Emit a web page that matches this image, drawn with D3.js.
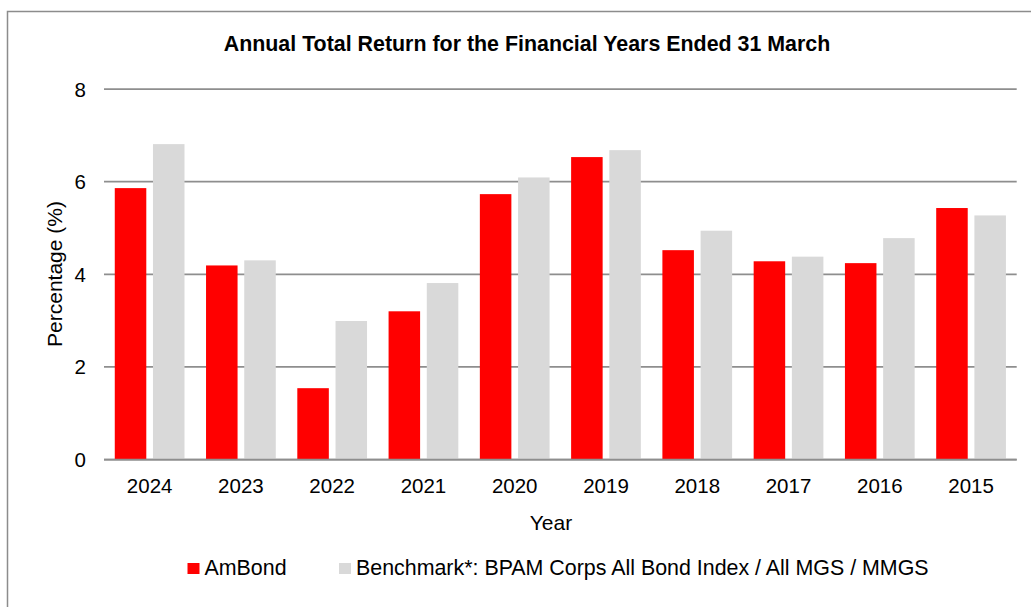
<!DOCTYPE html>
<html>
<head>
<meta charset="utf-8">
<script src="https://cdn.jsdelivr.net/npm/d3@7"></script>
<style>
  body { margin: 0; background: #fff; }
  text { font-family: "Liberation Sans", Arial, sans-serif; fill: #000; }
</style>
</head>
<body>
<div id="chart"></div>
<script>
// data
var years = ["2024", "2023", "2022", "2021", "2020", "2019", "2018", "2017", "2016", "2015"]
var seriesNames = ["AmBond", "Benchmark*: BPAM Corps All Bond Index / All MGS / MMGS"]
var amBond = [5.86, 4.19, 1.54, 3.20, 5.73, 6.53, 4.52, 4.28, 4.24, 5.43]
var benchmark = [6.81, 4.30, 2.99, 3.81, 6.09, 6.68, 4.94, 4.38, 4.78, 5.27]
var yTicks = [0, 2, 4, 6, 8]
var colors = ["#ff0000", "#d9d9d9"]

var W = 1031, H = 607
var margin = { left: 104, right: 14.3, top: 89, bottom: 147.5 }
var fontSize = "20.5px"

var svg = d3.select("#chart").append("svg")
  .attr("width", W)
  .attr("height", H)

// outer frame
svg.append("rect")
  .attr("x", 7.5).attr("y", 11.5)
  .attr("width", W + 20).attr("height", H + 20)
  .attr("fill", "none")
  .attr("stroke", "#8c8c8c")
  .attr("stroke-width", 1.5)

var x0 = d3.scaleBand()
  .domain(years)
  .range([margin.left, W - margin.right])
  .paddingInner(0.236)
  .paddingOuter(0.118)

var x1 = d3.scaleBand()
  .domain(seriesNames)
  .range([0, x0.bandwidth()])
  .paddingInner(0.175)

var y = d3.scaleLinear()
  .domain([0, 8])
  .range([H - margin.bottom, margin.top])

// gridlines
svg.append("g").selectAll("line")
  .data(yTicks)
  .enter().append("line")
  .attr("x1", margin.left)
  .attr("x2", W - margin.right)
  .attr("y1", function (d) { return y(d) })
  .attr("y2", function (d) { return y(d) })
  .attr("stroke", "#8e8e8e")
  .attr("stroke-width", 1.75)

// y tick labels
svg.append("g").selectAll("text")
  .data(yTicks)
  .enter().append("text")
  .attr("x", 86)
  .attr("y", function (d) { return y(d) + 7.5 })
  .attr("text-anchor", "end")
  .style("font-size", fontSize)
  .text(function (d) { return d })

// bars
var rows = years.map(function (yr, i) {
  return { year: yr, values: [amBond[i], benchmark[i]] }
})

var groups = svg.append("g").selectAll("g")
  .data(rows)
  .enter().append("g")
  .attr("transform", function (d) { return "translate(" + x0(d.year) + ",0)" })

groups.selectAll("rect")
  .data(function (d) { return d.values.map(function (v, j) { return { name: seriesNames[j], v: v, j: j } }) })
  .enter().append("rect")
  .attr("x", function (d) { return x1(d.name) })
  .attr("width", x1.bandwidth())
  .attr("y", function (d) { return y(d.v) })
  .attr("height", function (d) { return y(0) - y(d.v) })
  .attr("fill", function (d) { return colors[d.j] })

// redraw baseline on top of bars
svg.append("line")
  .attr("x1", margin.left).attr("x2", W - margin.right)
  .attr("y1", y(0)).attr("y2", y(0))
  .attr("stroke", "#8e8e8e")
  .attr("stroke-width", 1.75)

// x tick labels
svg.append("g").selectAll("text")
  .data(years)
  .enter().append("text")
  .attr("x", function (d) { return x0(d) + x0.bandwidth() / 2 })
  .attr("y", 493)
  .attr("text-anchor", "middle")
  .style("font-size", fontSize)
  .text(function (d) { return d })

// titles
svg.append("text")
  .attr("x", 527).attr("y", 51)
  .attr("text-anchor", "middle")
  .style("font-size", "21.4px")
  .style("font-weight", "bold")
  .text("Annual Total Return for the Financial Years Ended 31 March")

svg.append("text")
  .attr("x", 551).attr("y", 530)
  .attr("text-anchor", "middle")
  .style("font-size", "21px")
  .text("Year")

svg.append("text")
  .attr("transform", "translate(62,274) rotate(-90)")
  .attr("text-anchor", "middle")
  .style("font-size", "21px")
  .text("Percentage (%)")

// legend
var legendX = [187.5, 339]
var legend = svg.append("g").selectAll("g")
  .data(seriesNames)
  .enter().append("g")
  .attr("transform", function (d, i) { return "translate(" + legendX[i] + ",563)" })

legend.append("rect")
  .attr("width", 12).attr("height", 11)
  .attr("fill", function (d, i) { return colors[i] })

legend.append("text")
  .attr("x", 17).attr("y", 12)
  .style("font-size", "21.4px")
  .text(function (d) { return d })
</script>
</body>
</html>
